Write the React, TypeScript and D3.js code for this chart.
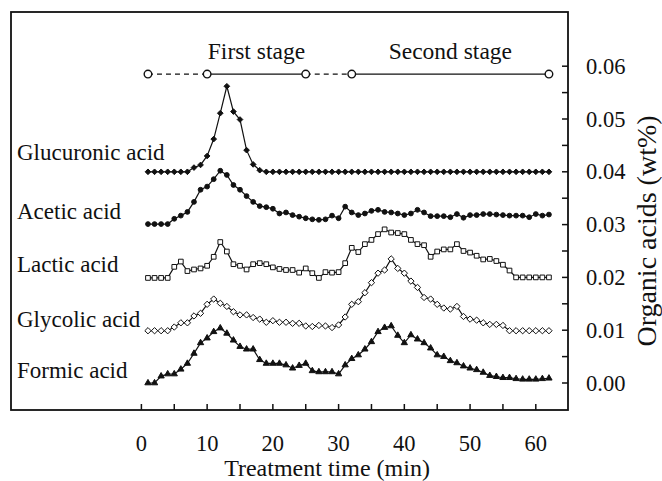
import React, { useEffect, useRef } from 'react'
import * as d3 from 'd3'

const width = 662
const height = 481

// treatment time (min)
const times = [
  1, 2, 3, 4, 5, 6, 7, 8, 9, 10, 11, 12, 13, 14, 15, 16, 17, 18, 19, 20, 21,
  22, 23, 24, 25, 26, 27, 28, 29, 30, 31, 32, 33, 34, 35, 36, 37, 38, 39, 40, 41,
  42, 43, 44, 45, 46, 47, 48, 49, 50, 51, 52, 53, 54, 55, 56, 57, 58, 59, 60, 61, 62
]

// values (curves are stacked with offsets)
const glucuronic = [
  0.0400, 0.0400, 0.0400, 0.0400, 0.0400, 0.0400, 0.0400, 0.0408, 0.0413, 0.0430,
  0.0462, 0.0511, 0.0562, 0.0514, 0.0499, 0.0441, 0.0414, 0.0403, 0.0400, 0.0400,
  0.0400, 0.0400, 0.0400, 0.0400, 0.0400, 0.0400, 0.0400, 0.0400, 0.0400, 0.0400,
  0.0400, 0.0400, 0.0400, 0.0400, 0.0400, 0.0400, 0.0400, 0.0400, 0.0400, 0.0400,
  0.0400, 0.0400, 0.0400, 0.0400, 0.0400, 0.0400, 0.0400, 0.0400, 0.0400, 0.0400,
  0.0400, 0.0400, 0.0400, 0.0400, 0.0400, 0.0400, 0.0400, 0.0400, 0.0400, 0.0400,
  0.0400, 0.0400
]
const acetic = [
  0.0301, 0.0301, 0.0301, 0.0301, 0.0311, 0.0317, 0.0324, 0.0343, 0.0366, 0.0372,
  0.0386, 0.0402, 0.0394, 0.0375, 0.0366, 0.0354, 0.0343, 0.0335, 0.0333, 0.0330,
  0.0321, 0.0323, 0.0318, 0.0315, 0.0312, 0.0310, 0.0309, 0.0310, 0.0317, 0.0312,
  0.0334, 0.0323, 0.0318, 0.0321, 0.0326, 0.0328, 0.0324, 0.0323, 0.0321, 0.0318,
  0.0321, 0.0328, 0.0323, 0.0316, 0.0316, 0.0316, 0.0314, 0.0320, 0.0313, 0.0318,
  0.0318, 0.0320, 0.0320, 0.0319, 0.0318, 0.0317, 0.0317, 0.0317, 0.0314, 0.0320,
  0.0317, 0.0319
]
const lactic = [
  0.0199, 0.0199, 0.0199, 0.0199, 0.0220, 0.0230, 0.0212, 0.0215, 0.0217, 0.0222,
  0.0239, 0.0267, 0.0249, 0.0225, 0.0222, 0.0215, 0.0225, 0.0227, 0.0225, 0.0219,
  0.0216, 0.0214, 0.0214, 0.0209, 0.0217, 0.0208, 0.0199, 0.0210, 0.0209, 0.0210,
  0.0227, 0.0256, 0.0248, 0.0263, 0.0271, 0.0282, 0.0291, 0.0285, 0.0284, 0.0282,
  0.0271, 0.0263, 0.0261, 0.0239, 0.0249, 0.0253, 0.0253, 0.0263, 0.0250, 0.0247,
  0.0241, 0.0234, 0.0235, 0.0231, 0.0224, 0.0213, 0.0200, 0.0200, 0.0200, 0.0200,
  0.0200, 0.0200
]
const glycolic = [
  0.0099, 0.0099, 0.0099, 0.0099, 0.0106, 0.0114, 0.0114, 0.0127, 0.0132, 0.0149,
  0.0159, 0.0151, 0.0145, 0.0135, 0.0129, 0.0129, 0.0124, 0.0121, 0.0115, 0.0118,
  0.0115, 0.0115, 0.0113, 0.0113, 0.0108, 0.0107, 0.0109, 0.0108, 0.0105, 0.0110,
  0.0125, 0.0149, 0.0154, 0.0171, 0.0190, 0.0208, 0.0214, 0.0235, 0.0217, 0.0208,
  0.0193, 0.0181, 0.0162, 0.0159, 0.0149, 0.0142, 0.0140, 0.0145, 0.0126, 0.0121,
  0.0119, 0.0114, 0.0111, 0.0111, 0.0109, 0.0099, 0.0099, 0.0099, 0.0099, 0.0099,
  0.0099, 0.0099
]
const formic = [
  0.0000, 0.0000, 0.0013, 0.0017, 0.0017, 0.0026, 0.0037, 0.0056, 0.0076, 0.0085,
  0.0097, 0.0104, 0.0094, 0.0081, 0.0069, 0.0064, 0.0064, 0.0044, 0.0037, 0.0037,
  0.0037, 0.0034, 0.0028, 0.0033, 0.0037, 0.0023, 0.0021, 0.0021, 0.0021, 0.0017,
  0.0034, 0.0046, 0.0053, 0.0064, 0.0078, 0.0097, 0.0105, 0.0108, 0.0090, 0.0076,
  0.0091, 0.0083, 0.0076, 0.0066, 0.0053, 0.0050, 0.0042, 0.0038, 0.0032, 0.0028,
  0.0025, 0.0020, 0.0014, 0.0012, 0.0010, 0.0010, 0.0008, 0.0007, 0.0007, 0.0007,
  0.0008, 0.0009
]

const seriesNames = ['Glucuronic acid', 'Acetic acid', 'Lactic acid', 'Glycolic acid', 'Formic acid']
const xTicks = [0, 10, 20, 30, 40, 50, 60]
const xMinor = [0, 5, 10, 15, 20, 25, 30, 35, 40, 45, 50, 55, 60]
const yTicks = [0, 0.01, 0.02, 0.03, 0.04, 0.05, 0.06]
const yMinor = [0, 0.005, 0.01, 0.015, 0.02, 0.025, 0.03, 0.035, 0.04, 0.045, 0.05, 0.055, 0.06]

// stage bar on top: dashed, solid, dashed, solid
const stageTimes = [1, 10, 25, 32, 62]
const stageLevel = 0.0585
const stageNames = ['First stage', 'Second stage']

const font = "'Liberation Serif', 'Times New Roman', serif"

// rotated square
const diamond = {
  draw (ctx: any, size: number) {
    const r = Math.sqrt(size / 2)
    ctx.moveTo(0, -r)
    ctx.lineTo(r, 0)
    ctx.lineTo(0, r)
    ctx.lineTo(-r, 0)
    ctx.closePath()
  }
}

export default function App () {
  const ref = useRef<SVGSVGElement>(null)

  useEffect(() => {
    const svg = d3.select(ref.current)
    svg.selectAll('*').remove()

    const left = 11, top = 12, right = 568, bottom = 410

    const x = d3.scaleLinear().domain([0, 60]).range([141.4, 535.8])
    const y = d3.scaleLinear().domain([0, 0.06]).range([383, 66.2])

    const g = svg.append('g').attr('font-family', font).attr('fill', '#111')

    const label = (t: string, px: number, py: number, size: number, anchor: string) =>
      g.append('text')
        .attr('x', px).attr('y', py)
        .attr('font-size', size)
        .attr('text-anchor', anchor)
        .attr('fill', '#111')
        .text(t)

    // frame
    g.append('rect')
      .attr('x', left).attr('y', top)
      .attr('width', right - left).attr('height', bottom - top)
      .attr('fill', 'none').attr('stroke', '#111').attr('stroke-width', 1.8)

    // right axis ticks (inward)
    g.selectAll('.ytick').data(yMinor).enter().append('line')
      .attr('x1', right - 6).attr('x2', right)
      .attr('y1', d => y(d)).attr('y2', d => y(d))
      .attr('stroke', '#111').attr('stroke-width', 1.5)
    yTicks.forEach(d => label(d.toFixed(2), 586, y(d) + 7.5, 22.5, 'start'))

    // bottom axis ticks (inward)
    g.selectAll('.xtick').data(xMinor).enter().append('line')
      .attr('x1', d => x(d)).attr('x2', d => x(d))
      .attr('y1', bottom - 6).attr('y2', bottom)
      .attr('stroke', '#111').attr('stroke-width', 1.5)
    xTicks.forEach(d => label(String(d), x(d), 451, 22.5, 'middle'))

    label('Treatment time (min)', 327, 476, 24, 'middle')

    g.append('text')
      .attr('transform', `translate(656,231) rotate(-90)`)
      .attr('font-size', 28)
      .attr('text-anchor', 'middle')
      .attr('fill', '#111')
      .text('Organic acids (wt%)')

    // stage bar
    const sy = y(stageLevel)
    for (let i = 0; i < stageTimes.length - 1; i++) {
      g.append('line')
        .attr('x1', x(stageTimes[i])).attr('x2', x(stageTimes[i + 1]))
        .attr('y1', sy).attr('y2', sy)
        .attr('stroke', '#111').attr('stroke-width', 1.3)
        .attr('stroke-dasharray', i % 2 === 0 ? '5,4' : null)
    }
    g.selectAll('.stage').data(stageTimes).enter().append('circle')
      .attr('cx', d => x(d)).attr('cy', sy).attr('r', 3.8)
      .attr('fill', '#fff').attr('stroke', '#111').attr('stroke-width', 1.4)
    label(stageNames[0], x((stageTimes[1] + stageTimes[2]) / 2), 59, 23.5, 'middle')
    label(stageNames[1], x((stageTimes[3] + stageTimes[4]) / 2), 59, 23.5, 'middle')

    // series
    const series = [
      { name: seriesNames[0], values: glucuronic, type: diamond, size: 16, fill: '#111', labelY: 160 },
      { name: seriesNames[1], values: acetic, type: d3.symbolCircle, size: 18, fill: '#111', labelY: 219 },
      { name: seriesNames[2], values: lactic, type: d3.symbolSquare, size: 22, fill: '#fff', labelY: 272 },
      { name: seriesNames[3], values: glycolic, type: diamond, size: 20, fill: '#fff', labelY: 327 },
      { name: seriesNames[4], values: formic, type: d3.symbolTriangle, size: 17, fill: '#111', labelY: 378 }
    ]

    const line = d3.line<number>()
      .x((d, i) => x(times[i]))
      .y(d => y(d))

    series.forEach(s => {
      g.append('path')
        .attr('d', line(s.values))
        .attr('fill', 'none').attr('stroke', '#111').attr('stroke-width', 1.2)

      const sym = d3.symbol().type(s.type as any).size(s.size)
      g.append('g').selectAll('path').data(s.values).enter().append('path')
        .attr('transform', (d, i) => `translate(${x(times[i])},${y(d)})`)
        .attr('d', sym as any)
        .attr('fill', s.fill).attr('stroke', '#111').attr('stroke-width', 1)

      label(s.name, 17, s.labelY, 23, 'start')
    })
  }, [])

  return (
    <svg ref={ref} width={width} height={height}
      style={{ position: 'absolute', left: 0, top: 0, background: '#fff' }} />
  )
}
